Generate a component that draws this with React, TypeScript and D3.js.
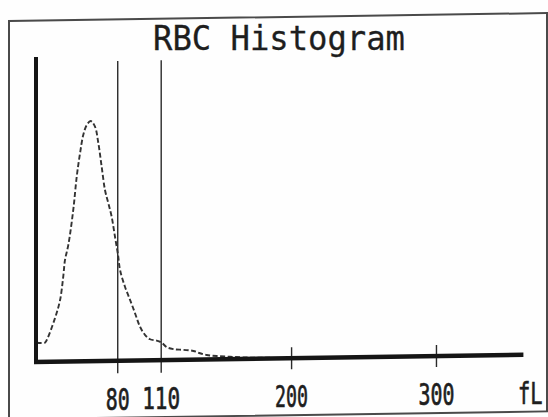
import React from "react";
import * as d3 from "d3";

const W = 548;
const H = 417;

// RBC volume distribution (fL) and relative counts
const volumes = [24, 29.8, 31.0, 36.7, 40.2, 42.4, 43.6, 45.9, 49.3, 51.7, 54.0, 56.2, 58.6, 61.3, 64.3, 66.6, 68.9, 71.2, 73.5, 75.8, 78.1, 80.2, 81.6, 85.0, 88.5, 91.9, 95.4, 98.8, 102.3, 106.9, 110.3, 113.8, 118.4, 125.3, 132.2, 136.8, 141.4, 148.3, 157.5, 166.5, 180, 200];
const counts = [6.4, 6.4, 7.25, 14.5, 20.5, 28.3, 33.8, 38.8, 50.4, 61.5, 69.3, 75.3, 78.6, 79.9, 78.0, 72.6, 64.7, 56.9, 52.5, 48.0, 41.3, 35.2, 30.2, 24.6, 20.2, 15.8, 11.2, 8.5, 7.0, 6.5, 5.8, 4.3, 3.6, 3.3, 2.9, 2.1, 1.5, 1.1, 0.8, 0.5, 0.3, 0.1];

const discriminators = [80, 110];
const tickValues = [200, 300];
const tickLabels = ["80", "110", "200", "300"];
const labelValues = [80, 110, 200, 300];
const unitLabel = "fL";
const title = "RBC Histogram";

const FONT = "'DejaVu Sans Mono', monospace";

export default function App() {
  const x = d3.scaleLinear().domain([24, 360]).range([36.6, 523.4]);
  const y = d3.scaleLinear().domain([0, 100]).range([362.5, 62]);

  const pts: [number, number][] = volumes.map((v, i) => [v, counts[i]]);
  const line = d3
    .line<[number, number]>()
    .x((d) => x(d[0]))
    .y((d) => y(d[1]))
    .curve(d3.curveCatmullRom.alpha(0.5));

  const axisY = y(0);
  const skew = -0.84; // scan tilt
  const tilt = Math.tan((skew * Math.PI) / 180);
  const labelBase = (px: number) => 411.5 + tilt * px;
  const labelWidths: Record<string, number> = { "80": 24, "110": 38, "200": 33, "300": 36 };

  return (
    <svg
      width={W}
      height={H}
      viewBox={`0 0 ${W} ${H}`}
      style={{ position: "absolute", left: 0, top: 0, background: "#ffffff" }}
    >
      <rect x={0} y={0} width={W} height={H} fill="#fefefe" />
      <g transform={`skewY(${skew})`}>
        {/* frame */}
        <rect x={9} y={21.1} width={538} height={398.3} fill="none" stroke="#4a4a4a" strokeWidth={2} />
        {/* discriminator lines */}
        {discriminators.map((d) => (
          <line key={d} x1={x(d)} x2={x(d)} y1={62.7} y2={375} stroke="#2a2a2a" strokeWidth={1.4} />
        ))}
        {/* ticks */}
        {tickValues.map((d) => (
          <line key={d} x1={x(d)} x2={x(d)} y1={axisY - 11} y2={axisY + 11} stroke="#2a2a2a" strokeWidth={1.4} />
        ))}
        {/* curve */}
        <path d={line(pts) || ""} fill="none" stroke="#333333" strokeWidth={1.9} strokeDasharray="5 2.5" />
        {/* axes */}
        <line x1={36} x2={36} y1={57.5} y2={axisY + 2} stroke="#151515" strokeWidth={4} />
        <line x1={34} x2={523.4} y1={axisY} y2={axisY} stroke="#151515" strokeWidth={4.5} />
      </g>
      {/* labels */}
      {labelValues.map((v, i) => (
        <text
          key={v}
          x={x(v) - labelWidths[tickLabels[i]] / 2}
          y={labelBase(x(v))}
          fontFamily={FONT}
          fontSize={30}
          fill="#1e1e1e"
          stroke="#1e1e1e"
          strokeWidth={0.7}
          textLength={labelWidths[tickLabels[i]]}
          lengthAdjust="spacingAndGlyphs"
        >
          {tickLabels[i]}
        </text>
      ))}
      <text
        transform={`translate(518, ${labelBase(530)}) scale(0.68, 1)`}
        x={0}
        y={0}
        fontFamily={FONT}
        fontSize={30}
        fill="#1e1e1e"
        stroke="#1e1e1e"
        strokeWidth={0.7}
      >
        {unitLabel}
      </text>
      <text
        x={153}
        y={50}
        fontFamily={FONT}
        fontSize={34}
        fill="#1e1e1e"
        stroke="#1e1e1e"
        strokeWidth={0.3}
        textLength={252}
        lengthAdjust="spacingAndGlyphs"
      >
        {title}
      </text>
    </svg>
  );
}
